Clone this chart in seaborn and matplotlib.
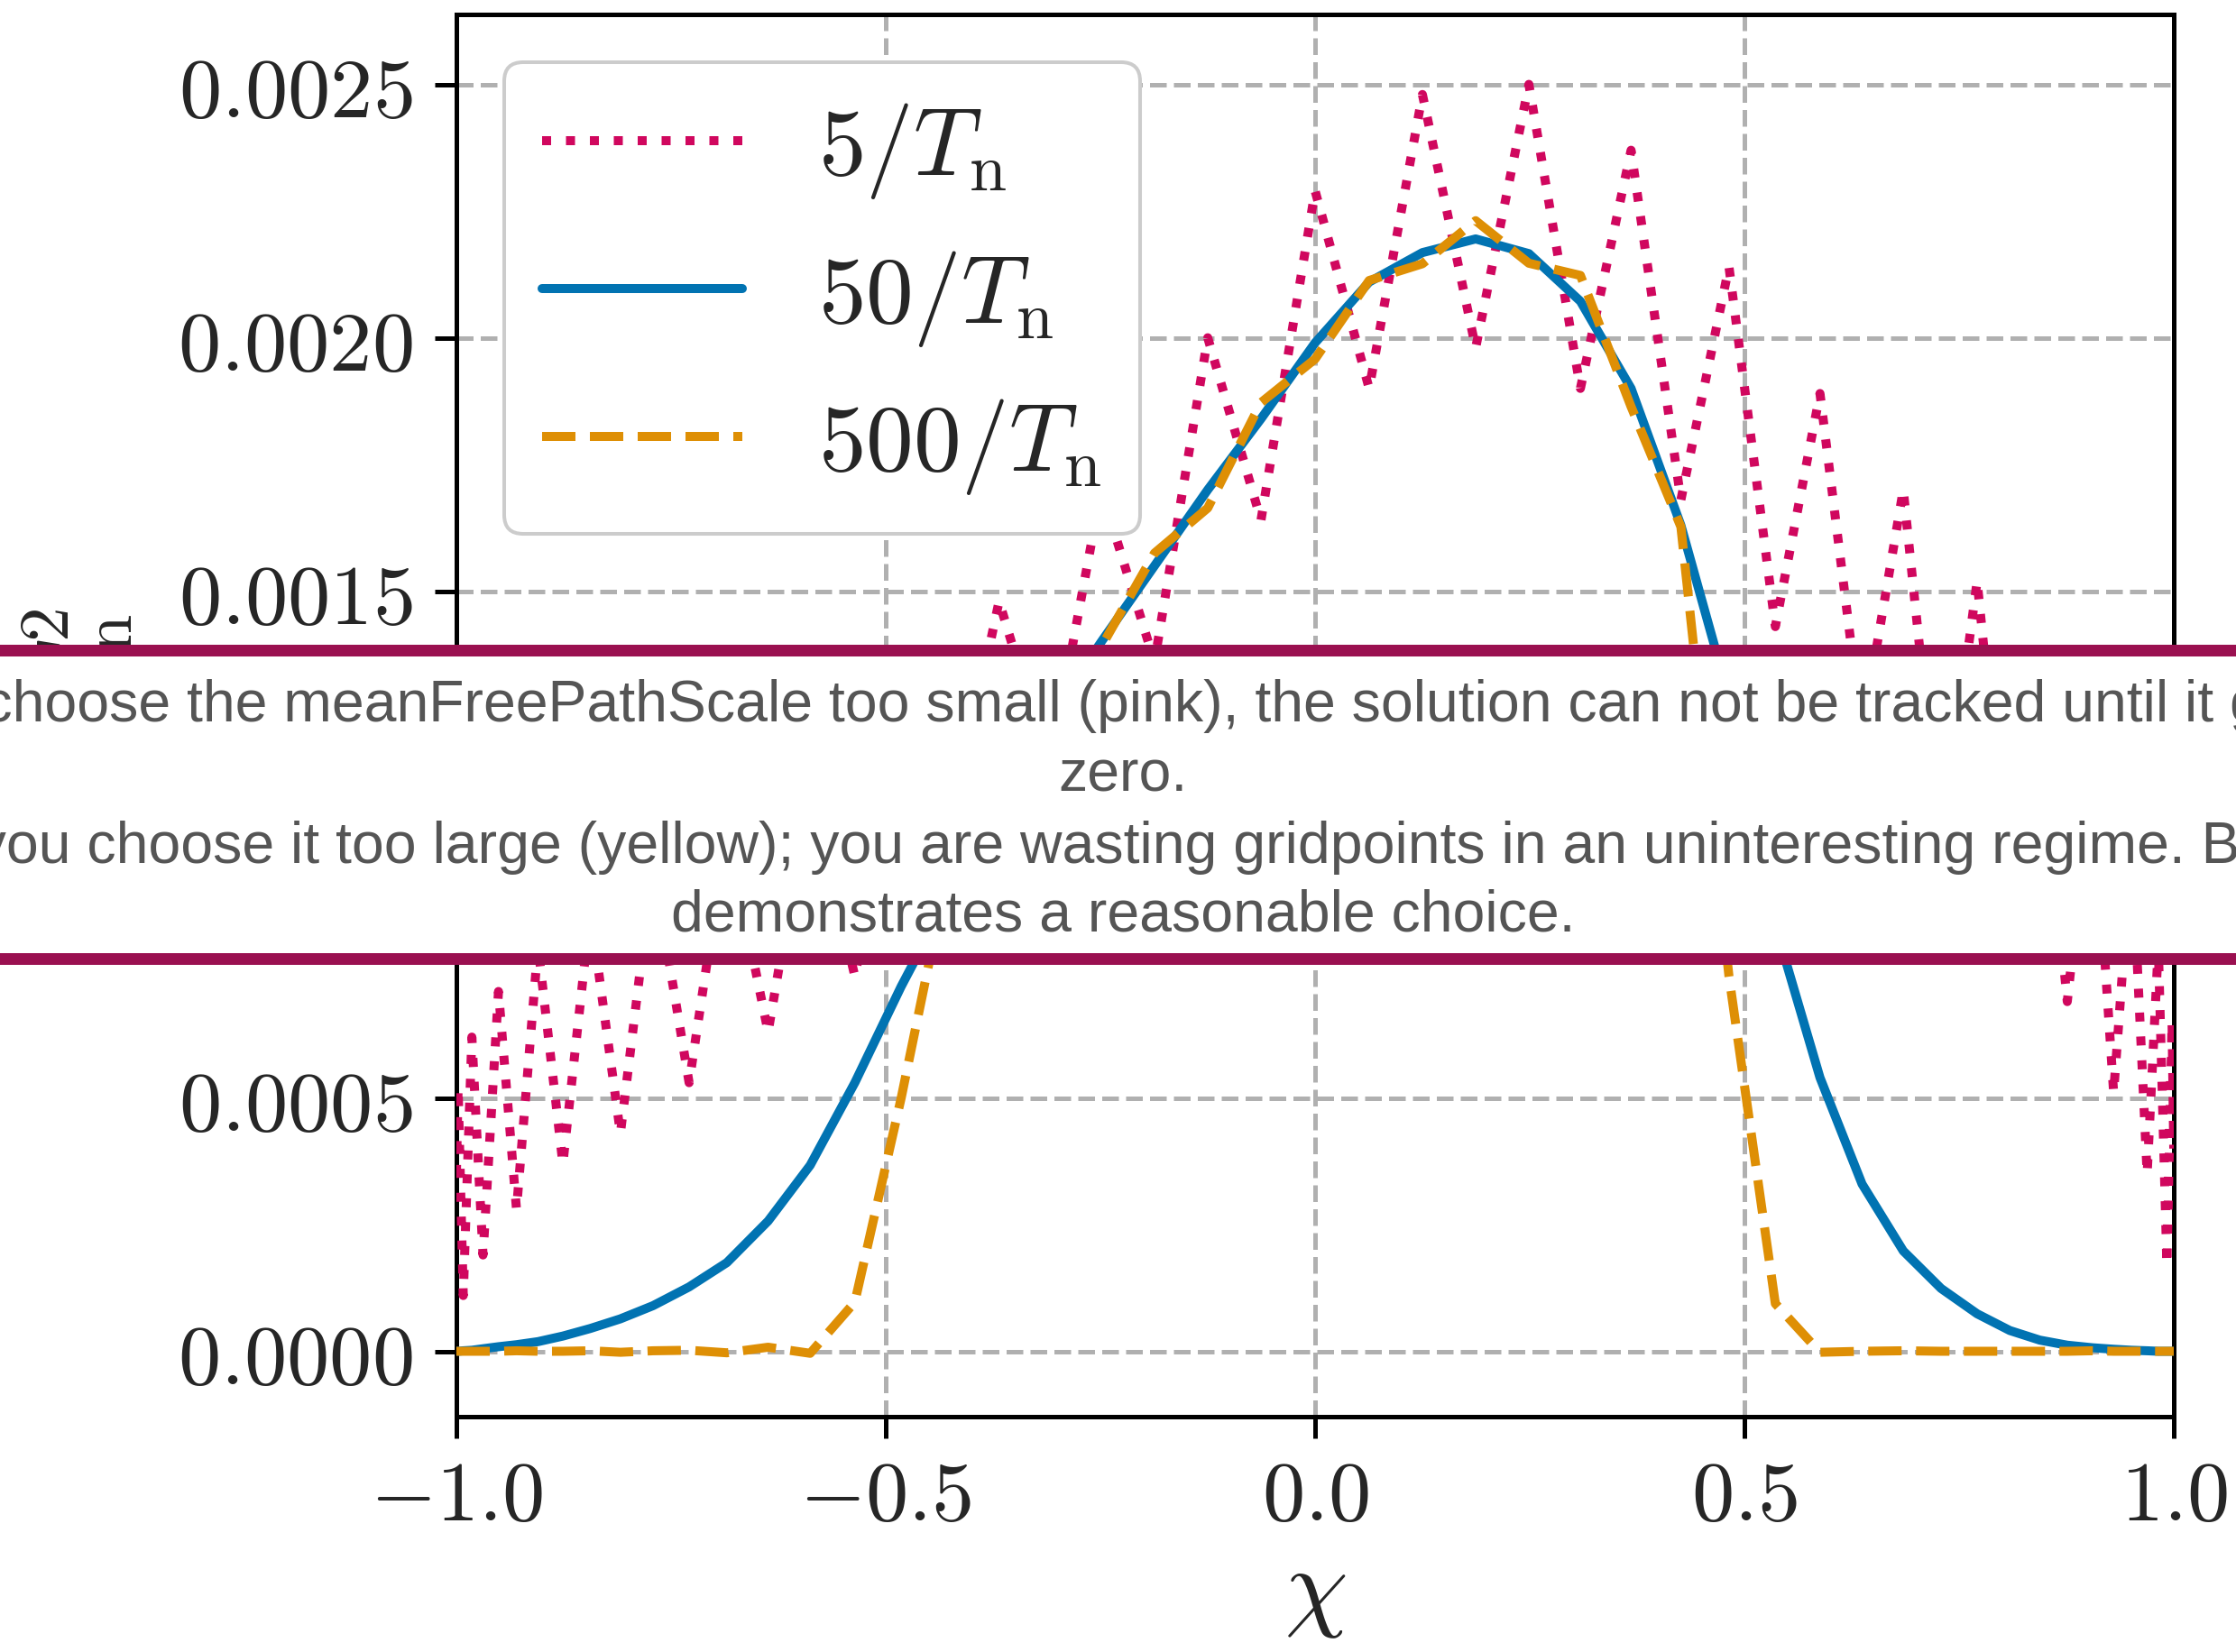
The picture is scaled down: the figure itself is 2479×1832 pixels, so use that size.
import pandas as pd
import matplotlib
matplotlib.use("Agg")
import matplotlib.pyplot as plt
from matplotlib.patches import Rectangle
from matplotlib.ticker import FuncFormatter
import seaborn as sns

# --- data ---
CHI = [-1.000, -0.998, -0.992, -0.982, -0.969, -0.951, -0.930, -0.905, -0.876, -0.844,
       -0.809, -0.771, -0.729, -0.685, -0.637, -0.588, -0.536, -0.482, -0.426, -0.368,
       -0.309, -0.249, -0.187, -0.125, -0.063, 0.000, 0.063, 0.125, 0.187, 0.249,
       0.309, 0.368, 0.426, 0.482, 0.536, 0.588, 0.637, 0.685, 0.729, 0.771,
       0.809, 0.844, 0.876, 0.905, 0.930, 0.951, 0.969, 0.982, 0.992, 0.998, 1.000]

PINK = [0.00035, 0.00052, 0.00011, 0.00062, 0.00019, 0.00071, 0.00028, 0.00080, 0.00037, 0.00087,
        0.00043, 0.00096, 0.00053, 0.00103, 0.00063, 0.00112, 0.00074, 0.00122, 0.00102, 0.00148,
        0.00115, 0.00170, 0.00136, 0.00200, 0.00164, 0.00229, 0.00190, 0.00248, 0.00198, 0.00250,
        0.00190, 0.00237, 0.00168, 0.00214, 0.00143, 0.00189, 0.00122, 0.00170, 0.00098, 0.00152,
        0.00088, 0.00125, 0.00069, 0.00115, 0.00051, 0.00100, 0.00035, 0.00080, 0.00017, 0.00065,
        0.00040]

BLUE = [0.0, 0.0, 0.000001, 0.000002, 0.000005, 0.000009, 0.000013, 0.000019, 0.000030, 0.000045,
        0.000064, 0.000090, 0.000127, 0.000175, 0.000257, 0.000367, 0.00053, 0.00072, 0.00090, 0.00108,
        0.00125, 0.00140, 0.00155, 0.00170, 0.00184, 0.00199, 0.00211, 0.002168, 0.002195, 0.002166,
        0.002072, 0.00190, 0.00163, 0.00129, 0.00084, 0.00054, 0.00033, 0.000198, 0.000124, 0.000074,
        0.000041, 0.000022, 0.000012, 0.000007, 0.000004, 0.000002, 0.000001, 0.0, 0.0, 0.0,
        0.0]

ORANGE = [0.0, 0.0, 0.0, 0.0, 0.0, 0.0, 0.000001, 0.0, 0.0, 0.000001,
          -0.000002, 0.000001, 0.000002, -0.000003, 0.000008, -0.000004, 0.000097, 0.00050, 0.00096, 0.00115,
          0.00128, 0.00139, 0.001575, 0.001664, 0.001872, 0.001958, 0.002113, 0.002146, 0.002231, 0.002147,
          0.002123, 0.001864, 0.001627, 0.00074, 0.000094, -0.000002, 0.0, 0.000001, 0.0, 0.0,
          0.0, 0.0, 0.0, 0.000001, 0.0, 0.0, 0.0, 0.0, 0.0, 0.0,
          0.0]

LABELS = [r"$5/T_\mathrm{n}$", r"$50/T_\mathrm{n}$", r"$500/T_\mathrm{n}$"]
X_TICKS = [-1.0, -0.5, 0.0, 0.5, 1.0]
Y_TICKS = [0.0, 0.0005, 0.0010, 0.0015, 0.0020, 0.0025]

NOTE_LINES = [
    "If you choose the meanFreePathScale too small (pink), the solution can not be tracked until it goes to",
    "zero.",
    "If you choose it too large (yellow); you are wasting gridpoints in an uninteresting regime. Blue",
    "demonstrates a reasonable choice.",
]

# --- style ---
COLORS = ["#D0075E", "#0173B2", "#DE8F05"]
STYLES = [":", "-", "--"]
MAROON = "#9A1050"

sns.set_style("ticks")
plt.rcParams["mathtext.fontset"] = "cm"
plt.rcParams["font.family"] = ["DejaVu Serif"]

W, H = 2479, 1833
fig = plt.figure(figsize=(W / 100, H / 100), dpi=100)
ax = fig.add_axes([506 / W, 1 - 1572 / H, 1904 / W, 1555 / H])

df = pd.DataFrame({
    "chi": CHI * 3,
    "value": PINK + BLUE + ORANGE,
    "scale": [LABELS[0]] * len(CHI) + [LABELS[1]] * len(CHI) + [LABELS[2]] * len(CHI),
})

for lab, col, ls in zip(LABELS, COLORS, STYLES):
    sns.lineplot(data=df[df["scale"] == lab], x="chi", y="value", color=col,
                 linestyle=ls, linewidth=7.2, label=lab, ax=ax, zorder=3)

ax.set_xlim(-1, 1)
ax.set_ylim(-0.000129, 0.002638)
ax.set_xticks(X_TICKS)
ax.set_yticks(Y_TICKS)
ax.xaxis.set_major_formatter(FuncFormatter(lambda v, p: f"${v:.1f}$"))
ax.yaxis.set_major_formatter(FuncFormatter(lambda v, p: f"${v:.4f}$"))
ax.tick_params(axis="both", labelsize=68, length=17, width=3.6, color="black")
ax.tick_params(axis="y", pad=18)
ax.tick_params(axis="x", pad=14)
for sp in ax.spines.values():
    sp.set_linewidth(3.6)
    sp.set_color("black")
ax.grid(True, linestyle="--", color="#b0b0b0", linewidth=3.6)
ax.set_axisbelow(True)

ax.set_xlabel(r"$\chi$", fontsize=80)
ax.set_ylabel(r"$\Gamma/T_\mathrm{n}^2$", fontsize=80)
ax.xaxis.set_label_coords(0.5, -0.09)
ax.yaxis.set_label_coords(-0.187, 0.5)

leg = ax.legend(loc="upper left", fontsize=76, handlelength=2.1, framealpha=1,
                edgecolor="#cccccc", fancybox=True)
leg.get_frame().set_linewidth(2.9)

# --- overlaid note banner ---
fig.add_artist(Rectangle((0, 1 - 1071 / H), 1, (1071 - 716) / H, transform=fig.transFigure,
                         facecolor="white", edgecolor="none", zorder=10))
for top in (716, 1058):
    fig.add_artist(Rectangle((0, 1 - (top + 13) / H), 1, 13 / H, transform=fig.transFigure,
                             facecolor=MAROON, edgecolor="none", zorder=11))
for line, base in zip(NOTE_LINES, [800, 878, 957, 1033]):
    fig.text(1245 / W, 1 - base / H, line, ha="center", va="baseline", fontsize=46.4,
             color="#555555", family="Liberation Sans", zorder=12)

fig.savefig("out.png", dpi=100)
